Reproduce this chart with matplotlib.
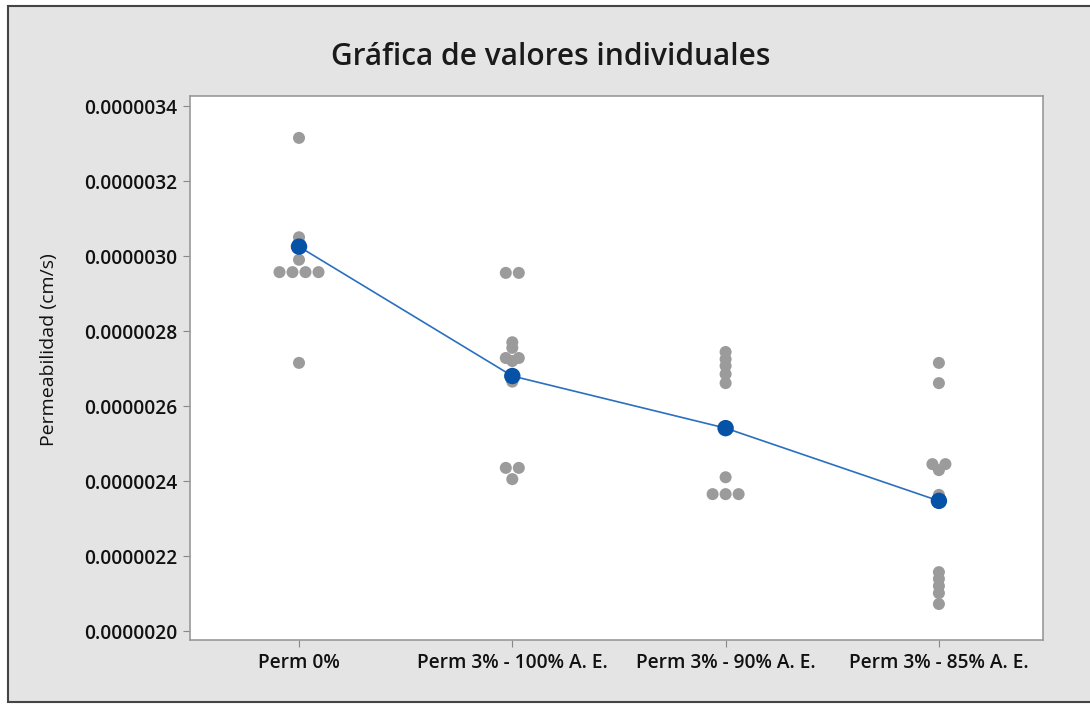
import numpy as np
import matplotlib
matplotlib.use("Agg")
from matplotlib import pyplot as plt
from matplotlib.patches import Rectangle
from matplotlib.ticker import FormatStrFormatter

# permeability readings per mix, in units of 1e-6 cm/s
categories = ["Perm 0%", "Perm 3% - 100% A. E.", "Perm 3% - 90% A. E.", "Perm 3% - 85% A. E."]
perm_0 = [3.315, 3.05, 3.035, 2.99, 2.957, 2.957, 2.957, 2.957, 2.715]
perm_100 = [2.955, 2.955, 2.77, 2.755, 2.728, 2.728, 2.72, 2.665, 2.435, 2.435, 2.405]
perm_90 = [2.744, 2.725, 2.707, 2.685, 2.661, 2.41, 2.365, 2.365, 2.365]
perm_85 = [2.715, 2.661, 2.445, 2.445, 2.429, 2.363, 2.157, 2.139, 2.12, 2.101, 2.072]
means = [3.025, 2.68, 2.541, 2.347]
yticks = [2.0, 2.2, 2.4, 2.6, 2.8, 3.0, 3.2, 3.4]

groups = [perm_0, perm_100, perm_90, perm_85]
SCALE = 1e-6

plt.rcParams["font.family"] = ["Open Sans", "DejaVu Sans"]

fig = plt.figure(figsize=(10.9, 7.04), dpi=100)
fig.patch.set_facecolor("white")

# gray panel with dark frame
W, H = 1090, 704
fig.patches.append(Rectangle((8 / W, 2 / H), 1.2, (H - 8) / H, transform=fig.transFigure,
                             facecolor="#e4e4e4", edgecolor="#444444", linewidth=1.5, zorder=-10))

ax = fig.add_axes([190 / W, 64 / H, 853 / W, 544 / H])
ax.set_facecolor("white")

# spread tied values side by side
step = 0.061
for i, vals in enumerate(groups):
    vals = np.asarray(vals)
    xs = np.full(len(vals), float(i))
    for v in np.unique(vals):
        idx = np.where(vals == v)[0]
        n = len(idx)
        if n > 1:
            xs[idx] = i + (np.arange(n) - (n - 1) / 2) * step
    ax.scatter(xs, vals * SCALE, s=75, color="#9b9b9b", edgecolors="none", zorder=2)

xpos = np.arange(len(categories))
ax.plot(xpos, np.array(means) * SCALE, color="#2a6fc0", linewidth=1.2, zorder=3)
ax.scatter(xpos, np.array(means) * SCALE, s=140, color="#0652a6", edgecolors="none", zorder=4)

ax.set_xlim(-0.511, 3.488)
ax.set_ylim(1.976e-6, 3.4267e-6)
ax.set_xticks(xpos)
ax.set_xticklabels(categories, fontsize=13.8, color="#111111", fontweight="semibold")
ax.set_yticks(np.array(yticks) * SCALE)
ax.yaxis.set_major_formatter(FormatStrFormatter("%.7f"))
for lab in ax.get_yticklabels():
    lab.set_fontweight("semibold")
ax.tick_params(axis="y", labelsize=13.8, labelcolor="#111111")
ax.tick_params(direction="out", length=5, color="#888888", pad=4)
for s in ax.spines.values():
    s.set_color("#999999")
    s.set_linewidth(1.2)

ax.set_ylabel("Permeabilidad (cm/s)", fontsize=14, color="#111111")
ax.yaxis.set_label_coords(-0.155, 0.533)
fig.text(551 / W, 1 - 57 / H, "Gráfica de valores individuales", fontsize=21.5,
         fontweight="semibold", ha="center", va="center", color="#1a1a1a")

fig.savefig("out.png", dpi=100)
